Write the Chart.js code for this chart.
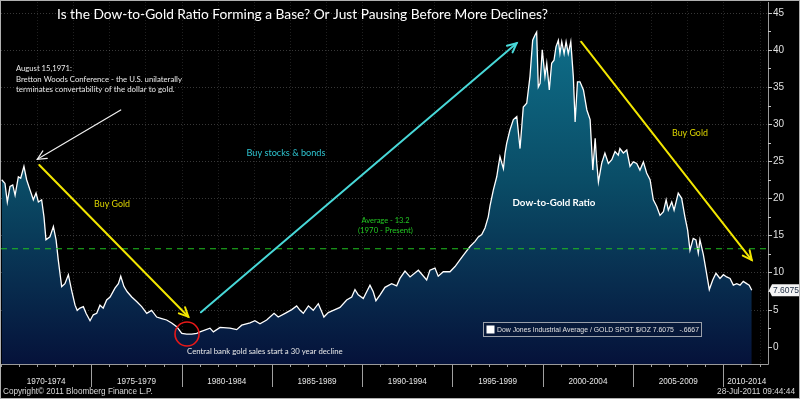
<!DOCTYPE html>
<html><head><meta charset="utf-8">
<script src="https://cdn.jsdelivr.net/npm/chart.js@4.4.0/dist/chart.umd.min.js"></script>
<style>html,body{margin:0;padding:0;background:#000;overflow:hidden}canvas{display:block}</style>
</head><body>
<canvas id="c" width="800" height="399"></canvas>
<script>
// ---- DATA ----
const years = [1970.04,1970.22,1970.35,1970.50,1970.65,1970.78,1970.96,1971.09,1971.27,1971.42,1971.61,1971.79,1971.94,1972.07,1972.25,1972.38,1972.49,1972.71,1972.90,1973.05,1973.17,1973.36,1973.54,1973.73,1973.91,1974.10,1974.22,1974.37,1974.56,1974.71,1974.93,1975.11,1975.30,1975.48,1975.66,1975.85,1976.04,1976.31,1976.50,1976.63,1976.81,1976.99,1977.24,1977.51,1977.79,1978.07,1978.34,1978.62,1978.90,1979.17,1979.45,1979.73,1980.01,1980.28,1980.56,1980.84,1981.02,1981.57,1981.76,1982.13,1982.68,1983.05,1983.33,1983.79,1984.06,1984.34,1984.71,1985.12,1985.35,1985.73,1986.10,1986.37,1986.56,1986.74,1987.02,1987.29,1987.57,1987.76,1987.88,1988.12,1988.40,1988.77,1989.14,1989.42,1989.60,1989.78,1990.06,1990.43,1990.61,1990.76,1990.99,1991.26,1991.63,1991.91,1992.09,1992.37,1992.65,1993.11,1993.57,1993.75,1994.03,1994.21,1994.49,1994.86,1995.14,1995.41,1995.69,1995.97,1996.25,1996.43,1996.62,1996.80,1996.98,1997.08,1997.26,1997.45,1997.54,1997.63,1997.82,1997.91,1998.00,1998.18,1998.37,1998.56,1998.74,1998.92,1999.11,1999.29,1999.44,1999.57,1999.66,1999.75,1999.85,1999.97,2000.12,2000.22,2000.36,2000.49,2000.62,2000.73,2000.86,2000.95,2001.05,2001.18,2001.29,2001.41,2001.55,2001.69,2001.79,2001.92,2002.06,2002.25,2002.44,2002.62,2002.77,2002.90,2002.99,2003.08,2003.26,2003.44,2003.63,2003.82,2004.00,2004.18,2004.27,2004.46,2004.65,2004.83,2005.01,2005.20,2005.38,2005.57,2005.75,2005.94,2006.12,2006.31,2006.49,2006.68,2006.83,2006.95,2007.14,2007.27,2007.50,2007.69,2007.87,2008.02,2008.15,2008.33,2008.48,2008.61,2008.70,2008.89,2009.04,2009.22,2009.41,2009.59,2009.81,2010.00,2010.18,2010.37,2010.55,2010.74,2010.92,2011.10,2011.29,2011.43,2011.57];
const ratio = [22.5,22.0,19.5,21.6,21.8,20.4,22.9,22.7,24.3,22.5,21.1,19.8,20.7,19.5,19.8,17.5,14.4,14.8,16.2,14.4,11.7,8.1,8.5,9.7,7.6,5.6,4.9,5.2,5.4,4.5,3.5,4.3,4.5,5.6,5.2,6.3,6.7,7.9,8.5,9.5,8.1,7.4,6.7,6.1,5.4,4.5,4.9,4.0,3.8,3.6,3.2,2.7,1.8,1.7,1.7,1.8,2.0,2.5,2.0,2.6,2.5,2.3,2.9,3.2,3.5,3.1,3.6,4.5,4.0,4.5,5.0,5.5,4.9,4.5,5.5,4.9,5.8,4.7,4.0,4.6,4.9,5.3,6.3,6.7,7.7,7.0,6.5,8.3,7.4,6.2,7.0,8.0,8.5,8.2,9.2,10.2,9.4,10.3,9.0,10.3,10.6,9.5,10.1,10.1,10.8,11.7,12.6,13.5,14.2,14.8,15.1,16.0,17.5,19.0,21.1,22.9,24.3,25.6,24.0,26.1,27.4,29.2,30.6,31.0,26.7,32.3,32.8,36.4,41.3,42.0,42.4,35.0,35.5,40.0,36.4,38.2,34.6,38.2,38.6,40.4,41.3,39.5,41.1,39.5,41.1,39.5,41.1,36.4,30.3,35.7,35.7,34.6,31.9,30.6,23.8,28.1,24.7,22.2,24.7,26.1,24.7,25.2,26.3,25.8,26.7,26.1,26.5,24.3,24.9,24.7,23.8,24.9,23.4,22.5,19.8,18.9,17.7,18.2,19.8,18.4,19.5,18.4,20.7,20.0,17.5,15.7,13.0,14.6,14.4,12.6,14.4,12.4,10.3,7.7,9.0,9.9,9.2,9.7,9.4,9.2,8.3,8.5,8.3,8.8,8.5,8.3,7.6075];
const periodStarts = [1970,1975,1980,1985,1990,1995,2000,2005,2010];
const periodLabels = ['1970-1974','1975-1979','1980-1984','1985-1989','1990-1994','1995-1999','2000-2004','2005-2009','2010-2014'];
const yTicks = [0,5,10,15,20,25,30,35,40,45];
const average = 13.2;
const lastValue = '7.6075';
const lastChange = '-.6667';
const titleText = 'Is the Dow-to-Gold Ratio Forming a Base? Or Just Pausing Before More Declines?';
const noteLines = ['August 15,1971:','Bretton Woods Conference - the U.S. unilaterally','terminates convertability of the dollar to gold.'];
const seriesName = 'Dow Jones Industrial Average / GOLD SPOT $/OZ';

// ---- helpers ----
function fitFont(ctx, text, weight, family, width){
  ctx.font = weight + ' 100px ' + family;
  const s = 100*width/ctx.measureText(text).width;
  return weight + ' ' + s.toFixed(2) + 'px ' + family;
}
function arrow(ctx, x1,y1,x2,y2,color,w,head){
  ctx.save();
  ctx.strokeStyle=color; ctx.lineWidth=w; ctx.lineCap='round';
  ctx.beginPath(); ctx.moveTo(x1,y1); ctx.lineTo(x2,y2); ctx.stroke();
  const a=Math.atan2(y2-y1,x2-x1), d=0.45;
  ctx.beginPath();
  ctx.moveTo(x2-head*Math.cos(a-d), y2-head*Math.sin(a-d));
  ctx.lineTo(x2,y2);
  ctx.lineTo(x2-head*Math.cos(a+d), y2-head*Math.sin(a+d));
  ctx.stroke();
  ctx.restore();
}
const SANS = 'Lato, "Open Sans", sans-serif';
const BBG = '"Liberation Sans", Arial, sans-serif';

const deco = {
  id:'deco',
  beforeDraw(chart){
    const {ctx, chartArea:ca, scales:{x,y}} = chart;
    ctx.save();
    ctx.fillStyle='#000'; ctx.fillRect(0,0,chart.width,chart.height);
    // grid
    ctx.strokeStyle='rgba(200,200,200,0.28)'; ctx.lineWidth=1; ctx.setLineDash([1,2]);
    yTicks.forEach(v=>{ if(v===0) return; const py=Math.round(y.getPixelForValue(v))+0.5;
      ctx.beginPath(); ctx.moveTo(ca.left,py); ctx.lineTo(ca.right,py); ctx.stroke(); });
    ctx.strokeStyle='rgba(200,200,200,0.16)';
    for(let t=1972;t<2013;t+=2){ const px=Math.round(x.getPixelForValue(t))+0.5;
      ctx.beginPath(); ctx.moveTo(px,ca.top); ctx.lineTo(px,ca.bottom); ctx.stroke(); }
    ctx.restore();
  },
  afterDatasetsDraw(chart){
    const {ctx, chartArea:ca, scales:{x,y}} = chart;
    const P=(t,v)=>[x.getPixelForValue(t), y.getPixelForValue(v)];
    ctx.save();
    // average dashed line
    const ay=y.getPixelForValue(average);
    ctx.strokeStyle='#20c020'; ctx.lineWidth=1.2; ctx.setLineDash([6,5]);
    ctx.beginPath(); ctx.moveTo(ca.left,ay); ctx.lineTo(ca.right,ay); ctx.stroke();
    ctx.setLineDash([]);

    // frame/axes
    ctx.strokeStyle='#9a9a9a'; ctx.lineWidth=1;
    ctx.beginPath(); ctx.moveTo(ca.right+0.5,ca.top); ctx.lineTo(ca.right+0.5,ca.bottom+0.5);
    ctx.lineTo(ca.left,ca.bottom+0.5); ctx.stroke();
    ctx.strokeStyle='#b0b0b0';
    ctx.strokeRect(0.5,0.5,chart.width-1,chart.height-1);

    // right axis ticks + labels
    ctx.fillStyle='#e0e0e0'; ctx.strokeStyle='#c8c8c8';
    ctx.font='10px '+BBG; ctx.textAlign='left'; ctx.textBaseline='middle';
    yTicks.forEach(v=>{
      const py=Math.round(y.getPixelForValue(v))+0.5;
      ctx.beginPath(); ctx.moveTo(ca.right,py); ctx.lineTo(ca.right+4,py); ctx.stroke();
      ctx.fillText(String(v), ca.right+5, py);
      if(v<45){ const pm=Math.round(y.getPixelForValue(v+2.5))+0.5;
        ctx.beginPath(); ctx.moveTo(ca.right,pm); ctx.lineTo(ca.right+3,pm); ctx.stroke(); }
    });
    // last value box
    const ly=y.getPixelForValue(ratio[ratio.length-1]);
    ctx.fillStyle='#f4f4f4';
    ctx.beginPath(); ctx.moveTo(ca.right+1,ly); ctx.lineTo(ca.right+4,ly-6); ctx.lineTo(chart.width-1,ly-6);
    ctx.lineTo(chart.width-1,ly+6); ctx.lineTo(ca.right+4,ly+6); ctx.closePath(); ctx.fill();
    ctx.fillStyle='#1a2a40'; ctx.font=fitFont(ctx,lastValue,'normal',BBG,26); ctx.textAlign='left';
    ctx.fillText(lastValue, ca.right+5, ly+0.5);

    // bottom axis
    ctx.strokeStyle='#a0a0a0';
    for(let t=1970;t<=2012;t++){ const px=Math.round(x.getPixelForValue(t))+0.5;
      if(px>ca.right) continue;
      ctx.beginPath(); ctx.moveTo(px,ca.bottom); ctx.lineTo(px,ca.bottom+3); ctx.stroke(); }
    ctx.fillStyle='#e4e4e4'; ctx.textAlign='center'; ctx.textBaseline='middle';
    const lf=fitFont(ctx,'1970-1974','normal',BBG,39);
    periodStarts.forEach((s,i)=>{
      const px=Math.round(x.getPixelForValue(s))+0.5;
      if(i>0){ ctx.beginPath(); ctx.moveTo(px,ca.bottom); ctx.lineTo(px,ca.bottom+23); ctx.stroke(); }
      let cx=x.getPixelForValue(s+2.5);
      const endx=Math.min(x.getPixelForValue(s+5),ca.right);
      if(x.getPixelForValue(s+5)>ca.right) cx=(x.getPixelForValue(s)+endx)/2+1;
      ctx.font=lf; ctx.fillText(periodLabels[i], cx, ca.bottom+17.5);
    });
    // copyright & timestamp
    ctx.fillStyle='#d8d8d8'; ctx.textBaseline='middle';
    ctx.textAlign='left'; ctx.font=fitFont(ctx,'Copyright\u00A9 2011 Bloomberg Finance L.P.','normal',BBG,150);
    ctx.fillText('Copyright\u00A9 2011 Bloomberg Finance L.P.', 3, 392);
    ctx.textAlign='right'; ctx.font=fitFont(ctx,'28-Jul-2011 09:44:44','normal',BBG,78);
    ctx.fillText('28-Jul-2011 09:44:44', 795, 392);

    // title
    ctx.fillStyle='#ffffff'; ctx.textAlign='left'; ctx.textBaseline='middle';
    ctx.font=fitFont(ctx,titleText,'normal',SANS,491);
    ctx.fillText(titleText, 57, 15);

    // note text
    ctx.fillStyle='#e8e8e8';
    const nw=[56,166,159];
    noteLines.forEach((l,i)=>{ const [px,py]=P(1970.83,37.43-i*1.36);
      ctx.font=fitFont(ctx,l,'normal',SANS,nw[i]); ctx.fillText(l,px,py); });

    // arrows
    let a=P(1976.63,31.9), b=P(1972.01,25.26); arrow(ctx,a[0],a[1],b[0],b[1],'#f0f0f0',1.2,10);
    a=P(1972.12,24.49); b=P(1980.37,4.04); arrow(ctx,a[0],a[1],b[0],b[1],'#f2e600',2,10);
    a=P(1981.07,4.64); b=P(1998.55,40.89); arrow(ctx,a[0],a[1],b[0],b[1],'#48d8d8',2,10);
    a=P(2002.12,41.1); b=P(2011.57,11.68); arrow(ctx,a[0],a[1],b[0],b[1],'#f2e600',2,10);

    // labels
    ctx.textAlign='center';
    const lab=(txt,t,v,col,w,wt)=>{ const [px,py]=P(t,v); ctx.fillStyle=col;
      ctx.font=fitFont(ctx,txt,wt||'normal',SANS,w); ctx.fillText(txt,px,py); };
    lab('Buy Gold',1976.15,19.23,'#dcd400',36);
    lab('Buy stocks & bonds',1985.78,26.1,'#2ec4d0',79);
    lab('Buy Gold',2008.15,28.8,'#dcd400',36);
    lab('Average - 13.2',1991.29,16.94,'#22c822',48);
    lab('(1970 - Present)',1991.29,15.6,'#22c822',55);
    lab('Dow-to-Gold Ratio',2000.62,19.37,'#ffffff',83,'bold');

    // red circle
    const c=P(1980.30,1.71);
    ctx.strokeStyle='#e81818'; ctx.lineWidth=1.6;
    ctx.beginPath(); ctx.arc(c[0],c[1],12,0,Math.PI*2); ctx.stroke();
    ctx.fillStyle='#e8e8e8'; ctx.textAlign='left';
    const cb='Central bank gold sales start a 30 year decline';
    let p=P(1980.30,-0.71); ctx.font=fitFont(ctx,cb,'normal',SANS,156); ctx.fillText(cb,p[0],p[1]);

    // legend box
    const bx=483.5, by=322.5, bw=218, bh=14;
    ctx.fillStyle='rgba(8,24,56,0.9)'; ctx.fillRect(bx,by,bw,bh);
    ctx.strokeStyle='#9aa0aa'; ctx.lineWidth=1; ctx.strokeRect(bx,by,bw,bh);
    ctx.fillStyle='#ffffff'; ctx.fillRect(bx+3,by+3,8,8);
    const lt=seriesName+' '+lastValue+'   '+lastChange;
    ctx.fillStyle='#e0e0e0'; ctx.font=fitFont(ctx,lt,'normal',BBG,202);
    ctx.textBaseline='middle'; ctx.fillText(lt,bx+13.5,by+bh/2+0.5);
    ctx.restore();
  }
};

const ctx = document.getElementById('c').getContext('2d');
new Chart(ctx,{
  type:'line',
  data:{datasets:[{
    data: years.map((t,i)=>({x:t,y:ratio[i]})),
    borderColor:'#ffffff', borderWidth:1.3, pointRadius:0, tension:0, fill:'start',
    backgroundColor:(c)=>{ const ch=c.chart, ca=ch.chartArea; if(!ca) return 'rgba(0,0,0,0)';
      const g=ch.ctx.createLinearGradient(0,ca.top,0,ca.bottom);
      g.addColorStop(0,'#0f7590'); g.addColorStop(0.5,'#0a4c66'); g.addColorStop(0.78,'#082c4e'); g.addColorStop(1,'#05123a');
      return g; }
  }]},
  options:{
    responsive:false, animation:false, devicePixelRatio:1,
    layout:{padding:{left:1,right:32,top:2,bottom:35}},
    scales:{
      x:{type:'linear',min:1970,max:2012.47,display:false},
      y:{min:-2.33,max:46.45,display:false}
    },
    plugins:{legend:{display:false},tooltip:{enabled:false}}
  },
  plugins:[deco]
});
</script>
</body></html>
